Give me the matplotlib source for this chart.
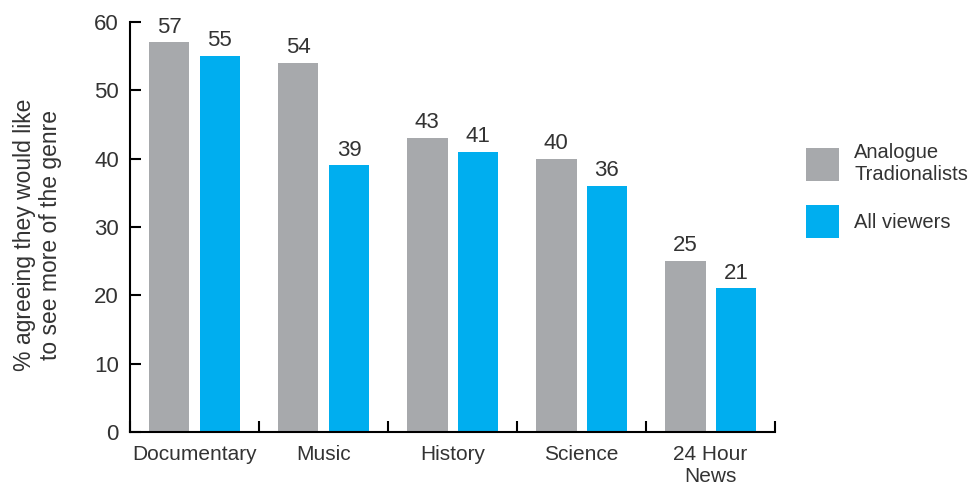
import matplotlib.pyplot as plt
import numpy as np

genres = ['Documentary', 'Music', 'History', 'Science', '24 Hour\nNews']
analogue = [57, 54, 43, 40, 25]
all_viewers = [55, 39, 41, 36, 21]
series_names = ['Analogue\nTradionalists', 'All viewers']

grey = '#a7a9ac'
blue = '#00aeef'
txt = '#333333'

plt.rcParams['font.family'] = ['Liberation Sans', 'DejaVu Sans']
plt.rcParams['font.size'] = 15

fig = plt.figure(figsize=(9.73, 4.87), dpi=100)
ax = fig.add_axes([0.1336, 0.1129, 0.663, 0.842])

x = np.arange(len(genres))
w = 0.316
off = 0.197
b1 = ax.bar(x - off, analogue, w, color=grey, label=series_names[0])
b2 = ax.bar(x + off, all_viewers, w, color=blue, label=series_names[1])

for bars in (b1, b2):
    for r in bars:
        ax.annotate(str(int(r.get_height())), (r.get_x() + r.get_width() / 2, r.get_height()),
                    xytext=(0, 3.5), textcoords='offset points', ha='center', va='bottom',
                    color=txt, fontsize=16)

ax.set_xlim(-0.5, len(genres) - 0.5)
ax.set_ylim(0, 60)
ax.set_yticks(range(0, 61, 10))
ax.set_xticks(np.arange(len(genres) + 1) - 0.5)
ax.set_xticklabels([])
ax.set_xticks(x, minor=True)
ax.set_xticklabels(genres, minor=True, color=txt, fontsize=15)
ax.tick_params(axis='x', which='minor', length=0, pad=9)
ax.tick_params(axis='x', which='major', direction='in', length=8, width=1.5)
ax.tick_params(axis='y', direction='in', length=8, width=1.5, colors='black',
               labelcolor=txt, labelsize=16, pad=8)

for s in ['top', 'right']:
    ax.spines[s].set_visible(False)
for s in ['left', 'bottom']:
    ax.spines[s].set_linewidth(1.5)

ax.set_ylabel('% agreeing they would like\nto see more of the genre', color=txt, fontsize=16.5)
ax.yaxis.set_label_coords(-0.105, 0.48)

ax.legend(loc='upper left', bbox_to_anchor=(1.02, 0.75), frameon=False, fontsize=14.5,
          handlelength=1.65, handleheight=2.16, labelspacing=1.05, handletextpad=0.75,
          labelcolor=txt)

fig.savefig('out.png', dpi=100)
